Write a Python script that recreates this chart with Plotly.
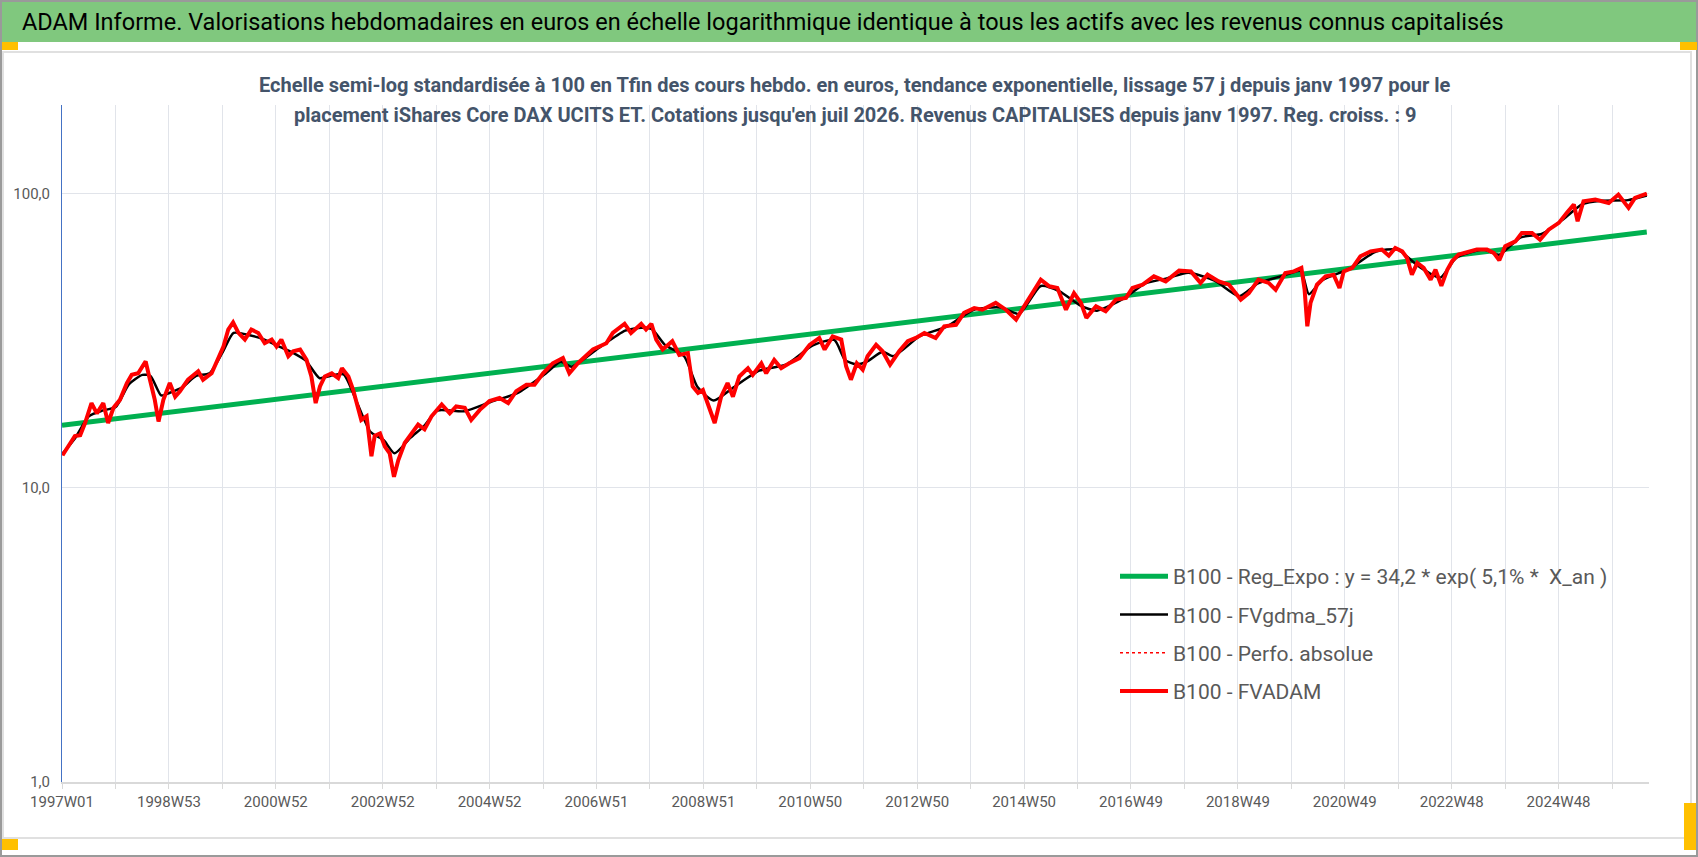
#!/usr/bin python3

# Imports
# ~~~~~~~~~~~~~~~~~~~~~~~~~~~~~~~~~~~~~~~~~~~~~~~~~~~~~~~~~~~~~~~~~~~~~~~~~~~~~~~~~~~~~~~~
from plotly import graph_objects as go

# ~~~~~~~~~~~~~~~~~~~~~~~~~~~~~~~~~~~~~~~~~~~~~~~~~~~~~~~~~~~~~~~~~~~~~~~~~~~~~~~~~~~~~~~~

TITLE = ("ADAM Informe. Valorisations hebdomadaires en euros en échelle logarithmique "
         "identique à tous les actifs avec les revenus connus capitalisés")
SUBTITLE_1 = ("Echelle semi-log standardisée à 100 en Tfin des cours hebdo. en euros, tendance "
              "exponentielle, lissage 57 j depuis janv 1997 pour le")
SUBTITLE_2 = ("placement iShares Core DAX UCITS ET. Cotations jusqu'en juil 2026. "
              "Revenus CAPITALISES depuis janv 1997. Reg. croiss. : 9")

NAMES = [
    "B100 - Reg_Expo : y = 34,2 * exp( 5,1% *  X_an )",
    "B100 - FVgdma_57j",
    "B100 - Perfo. absolue",
    "B100 - FVADAM",
]

# one label every 104 weeks, a tick/gridline every 52 weeks
TICK_LABELS = ["1997W01", "1998W53", "2000W52", "2002W52", "2004W52", "2006W51",
               "2008W51", "2010W50", "2012W50", "2014W50", "2016W49", "2018W49",
               "2020W49", "2022W48", "2024W48"]

# FVADAM (red), decimal year / value
ADAM_YEARS = [
    1997.01, 1997.12, 1997.24, 1997.34, 1997.43, 1997.55, 1997.65, 1997.77, 1997.86, 1997.96,
    1998.08, 1998.21, 1998.30, 1998.42, 1998.56, 1998.64, 1998.73, 1998.80, 1998.89, 1999.01,
    1999.11, 1999.20, 1999.35, 1999.54, 1999.63, 1999.79, 1999.91, 2000.01, 2000.10, 2000.19,
    2000.29, 2000.41, 2000.53, 2000.66, 2000.78, 2000.91, 2001.00, 2001.09, 2001.22, 2001.31,
    2001.44, 2001.56, 2001.65, 2001.73, 2001.81, 2001.90, 2002.03, 2002.15, 2002.22, 2002.34,
    2002.43, 2002.52, 2002.58, 2002.68, 2002.77, 2002.83, 2002.93, 2003.02, 2003.11, 2003.19,
    2003.27, 2003.39, 2003.52, 2003.64, 2003.76, 2003.89, 2004.08, 2004.23, 2004.35, 2004.51,
    2004.63, 2004.79, 2004.97, 2005.16, 2005.32, 2005.47, 2005.66, 2005.81, 2005.97, 2006.15,
    2006.34, 2006.46, 2006.62, 2006.77, 2006.90, 2007.15, 2007.27, 2007.49, 2007.61, 2007.80,
    2007.89, 2007.99, 2008.08, 2008.20, 2008.38, 2008.51, 2008.67, 2008.76, 2008.86, 2008.95,
    2009.04, 2009.17, 2009.29, 2009.41, 2009.51, 2009.63, 2009.79, 2009.88, 2010.04, 2010.13,
    2010.28, 2010.41, 2010.56, 2010.75, 2010.94, 2011.12, 2011.22, 2011.37, 2011.53, 2011.62,
    2011.71, 2011.82, 2011.93, 2012.02, 2012.18, 2012.30, 2012.44, 2012.61, 2012.77, 2012.92,
    2013.08, 2013.29, 2013.45, 2013.67, 2013.82, 2014.01, 2014.16, 2014.41, 2014.60, 2014.79,
    2014.94, 2015.10, 2015.25, 2015.41, 2015.56, 2015.72, 2015.87, 2016.00, 2016.10, 2016.28,
    2016.46, 2016.65, 2016.84, 2016.96, 2017.15, 2017.36, 2017.58, 2017.83, 2018.05, 2018.23,
    2018.36, 2018.57, 2018.76, 2018.98, 2019.13, 2019.31, 2019.50, 2019.63, 2019.81, 2019.97,
    2020.11, 2020.17, 2020.22, 2020.28, 2020.40, 2020.56, 2020.71, 2020.82, 2020.90, 2021.06,
    2021.21, 2021.40, 2021.61, 2021.74, 2021.86, 2021.99, 2022.08, 2022.17, 2022.27, 2022.39,
    2022.52, 2022.61, 2022.72, 2022.83, 2022.92, 2023.04, 2023.23, 2023.38, 2023.57, 2023.70,
    2023.80, 2023.91, 2024.10, 2024.22, 2024.41, 2024.56, 2024.72, 2024.91, 2025.06, 2025.19,
    2025.26, 2025.37, 2025.59, 2025.84, 2026.02, 2026.21, 2026.33, 2026.55,
]
ADAM_VALUES = [
    12.9, 13.8, 15.0, 15.1, 16.6, 19.4, 17.9, 19.4, 16.6, 18.7,
    19.9, 22.7, 24.2, 24.5, 26.9, 23.3, 19.9, 16.8, 19.9, 22.7,
    20.4, 21.3, 23.3, 24.9, 23.3, 24.5, 27.2, 30.2, 34.5, 36.5,
    33.6, 31.9, 34.5, 33.6, 31.0, 31.9, 30.2, 31.9, 28.0, 29.1,
    29.5, 27.2, 23.9, 19.4, 22.1, 23.9, 24.5, 23.6, 25.5, 23.9,
    21.5, 18.9, 17.0, 17.5, 12.8, 15.0, 15.3, 13.8, 13.1, 10.9,
    12.4, 14.2, 15.3, 16.4, 15.8, 17.5, 19.2, 17.9, 18.9, 18.7,
    17.0, 18.4, 19.7, 20.2, 19.4, 21.3, 22.4, 22.4, 24.5, 26.5,
    27.6, 24.5, 26.5, 28.0, 29.5, 31.0, 33.6, 36.1, 33.6, 36.1,
    34.5, 36.1, 31.9, 29.5, 31.5, 28.3, 28.7, 22.1, 21.0, 21.5,
    19.4, 16.6, 20.4, 22.7, 20.4, 23.9, 25.5, 24.2, 26.5, 24.5,
    27.2, 25.5, 26.5, 27.6, 30.6, 32.3, 29.5, 32.7, 31.9, 25.9,
    23.3, 26.5, 25.2, 28.0, 30.6, 29.1, 26.2, 29.1, 31.5, 32.3,
    33.6, 32.3, 35.4, 35.8, 39.3, 40.8, 40.3, 42.5, 40.3, 37.3,
    41.4, 45.9, 51.0, 48.4, 47.8, 40.3, 45.9, 42.5, 37.8, 41.4,
    39.8, 43.6, 44.2, 47.8, 49.0, 52.3, 50.3, 54.7, 54.4, 49.7,
    53.0, 50.3, 49.0, 43.6, 45.9, 51.0, 49.7, 47.1, 53.7, 54.4,
    55.9, 47.1, 35.4, 42.5, 49.0, 52.3, 53.0, 47.8, 54.4, 55.9,
    61.2, 63.6, 64.5, 61.5, 65.3, 63.6, 60.4, 53.0, 58.1, 55.9,
    51.0, 55.1, 48.6, 55.1, 58.9, 62.0, 63.6, 64.5, 64.5, 62.8,
    59.3, 66.2, 68.8, 73.5, 73.5, 69.7, 75.4, 79.5, 86.0, 91.8,
    80.5, 94.2, 95.4, 92.9, 99.2, 89.4, 96.7, 100.0,
]

# FVgdma_57j (black, smoothed)
GDMA_YEARS = [
    1997.00, 1997.25, 1997.50, 1997.75, 1998.00, 1998.25, 1998.50, 1998.65, 1998.85, 1999.00,
    1999.25, 1999.50, 1999.75, 2000.00, 2000.20, 2000.50, 2000.75, 2001.00, 2001.30, 2001.55,
    2001.80, 2002.00, 2002.25, 2002.50, 2002.75, 2003.00, 2003.20, 2003.50, 2003.75, 2004.00,
    2004.50, 2005.00, 2005.50, 2006.00, 2006.30, 2006.50, 2007.00, 2007.50, 2007.80, 2008.00,
    2008.25, 2008.60, 2008.85, 2009.15, 2009.50, 2010.00, 2010.50, 2011.00, 2011.40, 2011.60,
    2011.80, 2012.00, 2012.30, 2012.50, 2013.00, 2013.50, 2014.00, 2014.50, 2014.85, 2015.25,
    2015.60, 2016.00, 2016.30, 2016.80, 2017.20, 2017.60, 2018.00, 2018.50, 2018.95, 2019.30,
    2019.80, 2020.10, 2020.25, 2020.50, 2021.00, 2021.50, 2021.90, 2022.30, 2022.70, 2023.00,
    2023.50, 2023.80, 2024.20, 2024.60, 2025.00, 2025.35, 2025.70, 2026.20, 2026.55,
]
GDMA_VALUES = [
    13.0, 14.8, 17.5, 18.3, 18.8, 22.5, 24.2, 24.0, 20.6, 21.0,
    22.0, 24.0, 24.5, 29.0, 33.6, 33.0, 32.0, 30.5, 28.8, 27.0,
    23.6, 24.0, 24.3, 19.5, 15.5, 14.5, 13.1, 14.8, 16.2, 18.3,
    18.2, 19.6, 21.0, 24.3, 26.8, 25.8, 29.8, 34.2, 35.0, 34.6,
    30.5, 28.0, 22.0, 19.8, 21.8, 25.0, 26.2, 30.5, 31.8, 27.2,
    26.3, 26.8, 29.0, 28.0, 32.8, 35.3, 40.3, 41.0, 39.0, 48.5,
    46.5, 41.5, 40.0, 44.0, 49.5, 51.5, 53.8, 50.5, 44.8, 49.5,
    52.8, 54.5, 45.5, 50.8, 55.5, 63.5, 64.5, 56.5, 51.8, 60.5,
    64.5, 62.0, 71.0, 73.0, 82.0, 92.0, 94.5, 95.0, 98.5,
]

# Reg_Expo (green), straight on the log scale: first / last point
REG_YEARS = [1997.00, 2026.55]
REG_VALUES = [16.3, 74.0]

# ~~~~~~~~~~~~~~~~~~~~~~~~~~~~~~~~~~~~~~~~~~~~~~~~~~~~~~~~~~~~~~~~~~~~~~~~~~~~~~~~~~~~~~~~

W, H = 1698, 857
L, R, T, B = 62, 49, 105, 75
WEEKS_PER_YEAR = 52.1775
FONT = "Liberation Sans Narrow, Roboto, sans-serif"
GRID = "#E1E4EA"


def to_week(years):
    return [(y - 1997) * WEEKS_PER_YEAR for y in years]


def px(x, y):
    # pixel position in the page -> paper coordinates of the plot area
    return (x - L) / (W - L - R), (H - B - y) / (H - T - B)


fig = go.Figure()

fig.add_trace(go.Scatter(
    x=to_week(REG_YEARS), y=REG_VALUES, name=NAMES[0], mode="lines",
    line={"color": "#00B050", "width": 5}, legendgroup="a",
))
fig.add_trace(go.Scatter(
    x=to_week(GDMA_YEARS), y=GDMA_VALUES, name=NAMES[1], mode="lines",
    line={"color": "#000000", "width": 2.5, "shape": "spline", "smoothing": 0.6},
    legendgroup="b",
))
fig.add_trace(go.Scatter(
    x=to_week(ADAM_YEARS), y=ADAM_VALUES, name=NAMES[2], mode="lines",
    line={"color": "#FF0000", "width": 1.5, "dash": "dot"}, legendgroup="c",
))
fig.add_trace(go.Scatter(
    x=to_week(ADAM_YEARS), y=ADAM_VALUES, name=NAMES[3], mode="lines",
    line={"color": "#FF0000", "width": 4}, legendgroup="d",
))

tickvals = list(range(0, 1544, 52))
ticktext = [TICK_LABELS[i // 2] if i % 2 == 0 else "" for i in range(len(tickvals))]

fig.update_xaxes(
    range=[0, 1544], tickvals=tickvals, ticktext=ticktext,
    showgrid=True, gridcolor=GRID, gridwidth=1,
    showline=True, linecolor="#D9D9D9", linewidth=1.5,
    ticks="outside", ticklen=5, tickcolor="#D9D9D9",
    tickfont={"family": FONT, "size": 15, "color": "#595959"},
    zeroline=False,
)
fig.update_yaxes(
    type="log", range=[0, 2.30103],
    tickvals=[1, 10, 100], ticktext=["1,0", "10,0", "100,0"],
    showgrid=True, gridcolor=GRID, gridwidth=1,
    showline=True, linecolor="#4472C4", linewidth=1,
    ticks="", ticklabelstandoff=8,
    tickfont={"family": FONT, "size": 15, "color": "#595959"},
    zeroline=False,
)

shapes = []
# outer frame
shapes.append(dict(type="rect", xref="paper", yref="paper",
                   x0=px(1, 0)[0], x1=px(W - 1, 0)[0], y0=px(0, 1)[1], y1=px(0, H - 1)[1],
                   line={"color": "#9A9A9A", "width": 2}, layer="below"))
# inner frame
shapes.append(dict(type="rect", xref="paper", yref="paper",
                   x0=px(3, 0)[0], x1=px(1691, 0)[0], y0=px(0, 52)[1], y1=px(0, 838)[1],
                   line={"color": "#E0E0E0", "width": 2}, layer="below"))
# green title band
shapes.append(dict(type="rect", xref="paper", yref="paper",
                   x0=px(2, 0)[0], x1=px(W - 2, 0)[0], y0=px(0, 2)[1], y1=px(0, 42)[1],
                   fillcolor="#80C87E", line={"width": 0}, layer="below"))
# yellow handles
for x0, y0, x1, y1 in [(2, 42, 18, 50), (1680, 42, 1697, 50),
                       (2, 839, 18, 850), (1684, 803, 1696, 850)]:
    a, b = px(x0, y0)
    c, d = px(x1, y1)
    shapes.append(dict(type="rect", xref="paper", yref="paper", x0=a, x1=c, y0=d, y1=b,
                       fillcolor="#FFC000", line={"width": 0}, layer="below"))

tx, ty = px(20, 22)
s1x, s1y = px(855, 85)
s2x, s2y = px(855, 115)
sub_font = {"family": FONT, "size": 20, "color": "#44546A", "weight": "bold"}

fig.update_layout(
    width=W, height=H,
    margin={"l": L, "r": R, "t": T, "b": B, "pad": 0},
    paper_bgcolor="white", plot_bgcolor="white",
    shapes=shapes,
    annotations=[
        dict(text=TITLE, xref="paper", yref="paper", x=tx, y=ty, xanchor="left",
             yanchor="middle", showarrow=False,
             font={"family": FONT, "size": 23.5, "color": "#000000"}),
        dict(text=SUBTITLE_1, xref="paper", yref="paper", x=s1x, y=s1y, xanchor="center",
             yanchor="middle", showarrow=False, font=sub_font),
        dict(text=SUBTITLE_2, xref="paper", yref="paper", x=s2x, y=s2y, xanchor="center",
             yanchor="middle", showarrow=False, font=sub_font),
    ],
    showlegend=True,
    legend={
        "x": px(1115, 0)[0], "y": px(0, 556)[1], "xanchor": "left", "yanchor": "top",
        "bgcolor": "rgba(0,0,0,0)", "traceorder": "grouped", "tracegroupgap": 8,
        "itemwidth": 48,
        "font": {"family": FONT, "size": 21, "color": "#595959"},
    },
)

# the page body has a default 8px margin; drop it so the figure fills the window
fig.write_html(
    "out.html",
    config={"displayModeBar": False},
    post_script="document.body.style.margin='0px';document.body.style.overflow='hidden';",
)
